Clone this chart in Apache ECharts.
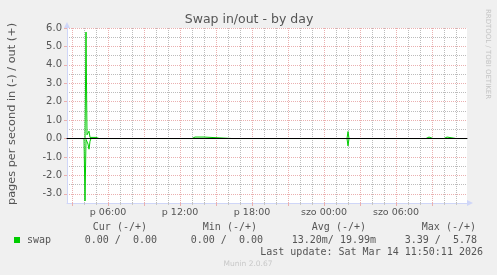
<!DOCTYPE html>
<html><head><meta charset="utf-8">
<script src="https://cdn.jsdelivr.net/npm/echarts@6/dist/echarts.min.js"></script>
<style>html,body{margin:0;padding:0;background:#f0f0f0}#c{width:497px;height:275px}</style>
</head><body><div id="c"></div><script>
// x values: minutes since Friday 00:00 (each 5-minute step = one sample)
const xMin = 155, xMax = 2155;
const yMin = -3.5, yMax = 6.0;
const timeTickMinutes = [360, 720, 1080, 1440, 1800];
const timeTickLabels = ['p 06:00', 'p 12:00', 'p 18:00', 'szo 00:00', 'szo 06:00'];
const yTickValues = [-3, -2, -1, 0, 1, 2, 3, 4, 5, 6];

// swap out (+)
const swapOut = [
  [155,0],[245,0],[250,5.78],[255,0.2],[260,0.3],[265,0.4],[270,0.06],[275,0.06],[280,0.06],
  [285,0.06],[290,0.06],[295,0.06],[300,0.06],[305,0.08],[310,0.06],[315,0],
  [330,0],[335,0.08],[340,0],
  [455,0],[460,0.08],[465,0],
  [535,0],[540,0.08],[545,0],
  [595,0],[600,0.08],[605,0],
  [700,0],[705,0.08],[710,0],
  [730,0],[735,0.08],[740,0],
  [780,0],[785,0.08],[790,0.08],[795,0.08],[800,0],[805,0.08],[810,0.08],[815,0.08],[820,0.08],
  [825,0.08],[830,0.1],[835,0.14],[840,0.08],[845,0.08],[850,0],
  [980,0],[985,0.08],[990,0],
  [1155,0],[1160,0.08],[1165,0],
  [1225,0],[1230,0.08],[1235,0],
  [1555,0],[1560,0.38],[1565,0],
  [1700,0],[1705,0.08],[1710,0],
  [1740,0],[1745,0.08],[1750,0],
  [1785,0],[1790,0.08],[1795,0],
  [1950,0],[1955,0.08],[1960,0.08],[1965,0.08],[1970,0],
  [1985,0],[1990,0.08],[1995,0],
  [2040,0],[2045,0.08],[2050,0.08],[2055,0.08],[2060,0.08],[2065,0],
  [2100,0],[2105,0.08],[2110,0],
  [2155,0]
];
// swap in (-)
const swapIn = [
  [155,0],[240,0],[245,-3.39],[250,-0.05],[255,-0.15],[260,-0.3],[265,-0.58],[270,-0.15],[275,0],
  [830,0],[835,-0.1],[840,0],
  [1555,0],[1560,-0.4],[1565,0],
  [2155,0]
];

const legendHeaders = ['Cur (-/+)', 'Min (-/+)', 'Avg (-/+)', 'Max (-/+)'];
const legendValues = ['0.00 /  0.00', '0.00 /  0.00', '13.20m/ 19.99m', '3.39 /  5.78'];
const lastUpdate = 'Last update: Sat Mar 14 11:50:11 2026';

const MAJ = '#eab0b0', MIN = '#bcbcbc', AXIS = '#cfd6f8';
const hourTicks = []; for (let m = 180; m < xMax; m += 60) hourTicks.push(m);
const majorTicks = []; for (let m = 180; m < xMax; m += 180) majorTicks.push(m);
const halfTicks = []; for (let v = -3; v <= 6.001; v += 0.5) halfTicks.push(+v.toFixed(1));

const headerRight = [147, 257, 366, 476];
const valueRight = [157, 263, 376, 477];
const graphics = [
  {type:'text', x:249, y:20, style:{text:'Swap in/out - by day', fill:'#555', font:'12.5px "DejaVu Sans"', textAlign:'center', textVerticalAlign:'middle', align:'center', verticalAlign:'middle'}},
  {type:'text', x:12, y:114, rotation:Math.PI/2, style:{text:'pages per second in (-) / out (+)', fill:'#555', font:'11.3px "DejaVu Sans"', textAlign:'center', textVerticalAlign:'middle', align:'center', verticalAlign:'middle'}},
  {type:'text', x:488, y:54, rotation:-Math.PI/2, style:{text:'RRDTOOL / TOBI OETIKER', fill:'#c4c4c4', font:'7px "DejaVu Sans"', textAlign:'center', textVerticalAlign:'middle', align:'center', verticalAlign:'middle'}},
  {type:'text', x:483, y:252, style:{text:lastUpdate, fill:'#555', font:'10px "DejaVu Sans Mono"', textAlign:'right', textVerticalAlign:'middle', align:'right', verticalAlign:'middle'}},
  {type:'text', x:248, y:264, style:{text:'Munin 2.0.67', fill:'#c8c8c8', font:'7.5px "DejaVu Sans"', textAlign:'center', textVerticalAlign:'middle', align:'center', verticalAlign:'middle'}},
  // arrow heads of the axes (rrdtool style)
  {type:'polygon', shape:{points:[[64,28],[70,28],[67,22]]}, style:{fill:AXIS}, z:5},
  {type:'polygon', shape:{points:[[467,200],[467,206],[473,203]]}, style:{fill:AXIS}, z:5}
];
legendHeaders.forEach((t, i) => graphics.push({type:'text', x:headerRight[i], y:227, style:{text:t, fill:'#555', font:'10px "DejaVu Sans Mono"', textAlign:'right', textVerticalAlign:'middle', align:'right', verticalAlign:'middle'}}));
legendValues.forEach((t, i) => graphics.push({type:'text', x:valueRight[i], y:240, style:{text:t, fill:'#555', font:'10px "DejaVu Sans Mono"', textAlign:'right', textVerticalAlign:'middle', align:'right', verticalAlign:'middle'}}));

const chart = echarts.init(document.getElementById('c'), null, {renderer:'canvas'});
chart.setOption({
  animation:false,
  backgroundColor:'#f0f0f0',
  grid:{left:67, top:28, width:400, height:175, show:true, backgroundColor:'#ffffff', borderWidth:0, containLabel:false},
  legend:{data:['swap'], left:14, top:235, padding:0, icon:'rect', itemWidth:6, itemHeight:6, itemGap:10,
    textStyle:{fontFamily:'DejaVu Sans Mono', fontSize:10, color:'#555', padding:[0,0,0,2]}},
  xAxis:[
    {type:'value', min:xMin, max:xMax, position:'bottom',
      axisLine:{show:true, onZero:false, lineStyle:{color:AXIS}},
      axisTick:{show:true, customValues:hourTicks, length:2, lineStyle:{color:'#c8c8c8'}},
      axisLabel:{show:false},
      splitLine:{show:true, lineStyle:{color:[MAJ, MIN, MIN], type:[1,1], width:1}}},
    {type:'value', min:xMin, max:xMax, position:'bottom',
      axisLine:{show:false, onZero:false},
      axisTick:{show:true, customValues:majorTicks, length:3, lineStyle:{color:MAJ}},
      axisLabel:{show:true, customValues:timeTickMinutes, margin:5, color:'#555', fontSize:9.5, fontFamily:'DejaVu Sans',
        formatter:v => timeTickLabels[timeTickMinutes.indexOf(v)]},
      splitLine:{show:false}},
    {type:'value', min:xMin, max:xMax, z:10,
      axisLine:{show:true, onZero:true, onZeroAxisIndex:0, lineStyle:{color:'#000', width:1}},
      axisTick:{show:false}, axisLabel:{show:false}, splitLine:{show:false}}
  ],
  yAxis:[
    {type:'value', min:yMin, max:yMax, position:'left',
      axisLine:{show:true, onZero:false, lineStyle:{color:AXIS}},
      axisTick:{show:false, customValues:halfTicks},
      axisLabel:{show:false},
      splitLine:{show:true, lineStyle:{color:[MAJ, MIN], type:[1,1], width:1}}},
    {type:'value', min:yMin, max:yMax, position:'left',
      axisLine:{show:false, onZero:false},
      axisTick:{show:true, customValues:yTickValues, length:3, lineStyle:{color:MAJ}},
      axisLabel:{show:true, customValues:yTickValues, margin:5, color:'#555', fontSize:10, fontFamily:'DejaVu Sans',
        formatter:v => v.toFixed(1)},
      splitLine:{show:false}}
  ],
  series:[
    {name:'swap', type:'line', xAxisIndex:0, yAxisIndex:0, data:swapIn, showSymbol:false, symbol:'none',
      lineStyle:{color:'#00cc00', width:1}, itemStyle:{color:'#00cc00'}, z:3},
    {name:'swap', type:'line', xAxisIndex:0, yAxisIndex:0, data:swapOut, showSymbol:false, symbol:'none',
      lineStyle:{color:'#00cc00', width:1}, itemStyle:{color:'#00cc00'}, z:3}
  ],
  graphic:graphics
});
</script></body></html>
